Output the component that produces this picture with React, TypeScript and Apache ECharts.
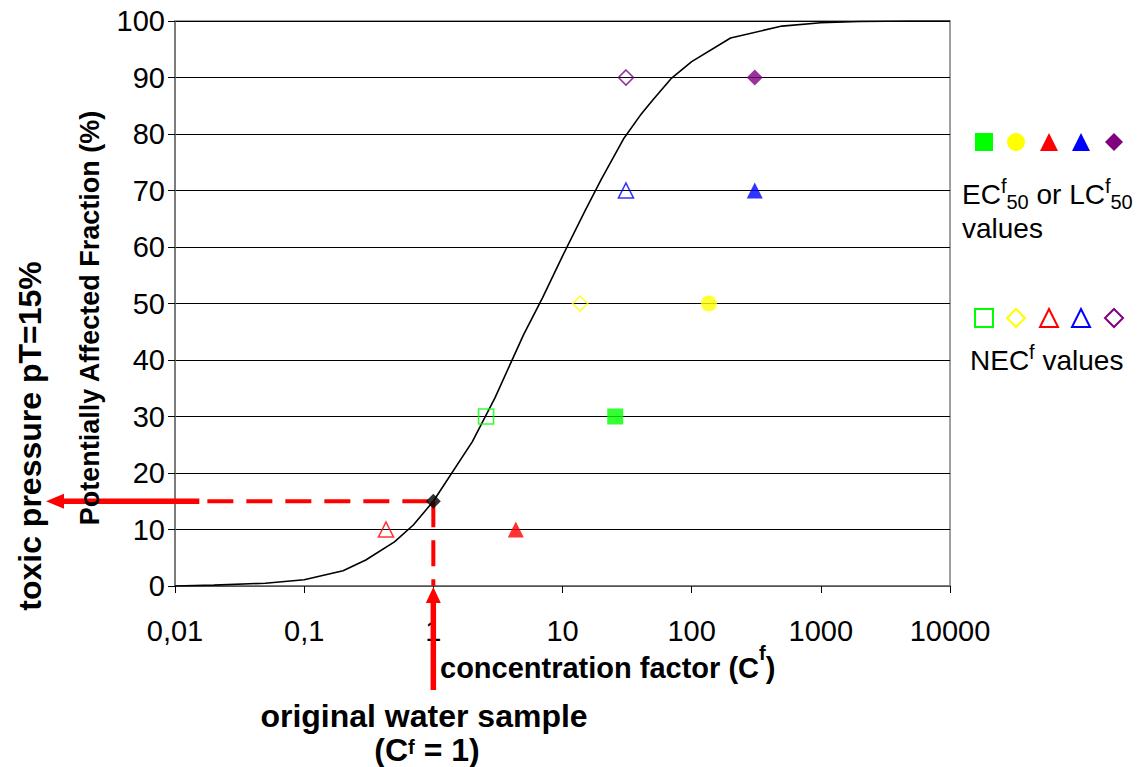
import React, { useEffect, useRef } from 'react';
import * as echarts from 'echarts';

// ---- data ----
const tickLabels = ['0,01', '0,1', '1', '10', '100', '1000', '10000'];
const curveX = [0.01, 0.02, 0.05, 0.1, 0.2, 0.3, 0.5, 0.7, 1, 2, 3, 5, 7, 10, 15, 20, 30, 40, 50, 70, 100, 200, 500, 1000, 2000, 5000, 10000];
const curvePAF = [0.0, 0.15, 0.5, 1.1, 2.7, 4.6, 7.8, 10.8, 15, 25.5, 33.3, 44.5, 51, 58.4, 66.5, 72, 79.3, 83.3, 86, 89.9, 92.8, 97, 99.1, 99.7, 99.9, 100, 100];
const ecX = [25.6, 136, 4.35, 308, 308];
const ecY = [30, 50, 10, 70, 90];
const necX = [2.56, 13.7, 0.43, 31, 31];
const necY = [30, 50, 10, 70, 90];
const sampleX = 1;
const samplePAF = 15;
const pointerStartX = 0.0178;

// ---- styles ----
const speciesColors = ['#00ff00', '#ffff00', '#ff0000', '#0000ff', '#800080'];
const ecSymbols = ['rect', 'circle', 'triangle', 'triangle', 'diamond'];
const necSymbols = ['rect', 'diamond', 'triangle', 'triangle', 'diamond'];
const FONT = "'Liberation Sans', Arial, Helvetica, sans-serif";
const RED = '#ff0000';

export default function App() {
  const ref = useRef<HTMLDivElement>(null);
  useEffect(() => {
    if (!ref.current) return;
    const chart = echarts.init(ref.current, undefined, { renderer: 'svg' });
    chart.setOption({
      animation: false,
      backgroundColor: '#ffffff',
      grid: {
        left: 175, top: 21, width: 775, height: 565,
        show: true, borderColor: '#808080', borderWidth: 1.5, backgroundColor: 'transparent'
      },
      xAxis: {
        type: 'log', logBase: 10, min: 0.01, max: 10000,
        axisLine: { show: true, onZero: false, lineStyle: { color: '#707070', width: 1.5 } },
        axisTick: { show: true, length: 7, lineStyle: { color: '#000', width: 1 } },
        minorTick: { show: false },
        splitLine: { show: false },
        axisLabel: {
          fontSize: 29, fontFamily: FONT, color: '#000', margin: 30,
          formatter: (v: number) => tickLabels[Math.round(Math.log10(v)) + 2] ?? ''
        }
      },
      yAxis: {
        type: 'value', min: 0, max: 100, interval: 10,
        axisLine: { show: true, lineStyle: { color: '#707070', width: 1.5 } },
        axisTick: { show: true, length: 7, lineStyle: { color: '#000', width: 1 } },
        splitLine: { show: true, lineStyle: { color: '#000', width: 1 } },
        axisLabel: { fontSize: 29, fontFamily: FONT, color: '#000', margin: 10 }
      },
      series: [
        {
          type: 'line', name: 'SSD', data: curveX.map((x, i) => [x, curvePAF[i]]),
          symbol: 'none', smooth: false, lineStyle: { color: '#000', width: 1.6 }, z: 3
        },
        {
          type: 'line', name: 'pT horizontal', data: [[pointerStartX, samplePAF], [sampleX, samplePAF]],
          symbol: 'none', lineStyle: { color: RED, width: 4, type: [26, 13] }, z: 4
        },
        {
          type: 'line', name: 'pT vertical', data: [[sampleX, samplePAF], [sampleX, 0]],
          symbol: 'none', lineStyle: { color: RED, width: 4, type: [26, 13] }, z: 4
        },
        {
          type: 'scatter', name: 'EC50', z: 5,
          data: ecX.map((x, i) => ({
            value: [x, ecY[i]], symbol: ecSymbols[i], symbolSize: 16,
            itemStyle: { color: speciesColors[i] }
          }))
        },
        {
          type: 'scatter', name: 'NEC', z: 5,
          data: necX.map((x, i) => ({
            value: [x, necY[i]], symbol: necSymbols[i], symbolSize: 15,
            itemStyle: { color: 'rgba(255,255,255,0)', borderColor: speciesColors[i], borderWidth: 1.6 }
          }))
        },
        {
          type: 'scatter', name: 'sample', z: 6,
          data: [[sampleX, samplePAF]], symbol: 'diamond', symbolSize: 15,
          itemStyle: { color: '#000' }
        }
      ]
    });

    const [sx, sy] = chart.convertToPixel({ gridIndex: 0 }, [sampleX, samplePAF]) as number[];
    const [px0] = chart.convertToPixel({ gridIndex: 0 }, [pointerStartX, samplePAF]) as number[];
    const y0 = (chart.convertToPixel({ gridIndex: 0 }, [sampleX, 0]) as number[])[1];

    const txt = (text: string, x: number, y: number, size: number, bold: boolean, opts: any = {}) => ({
      type: 'text', x, y, rotation: opts.rotation || 0, z: 100,
      style: {
        text, fill: '#000', fontSize: size, fontWeight: bold ? 'bold' : 'normal', fontFamily: FONT,
        align: opts.align || 'center', verticalAlign: 'middle'
      }
    });

    const richText = (text: string, x: number, y: number, size: number, bold: boolean, lineHeight: number,
      align: string, sup: { size: number; lh: number }, sub?: { size: number; lh: number }) => ({
      type: 'text', x, y, z: 100,
      style: {
        text, fill: '#000', fontSize: size, fontWeight: bold ? 'bold' : 'normal', fontFamily: FONT,
        lineHeight, align, verticalAlign: 'middle',
        rich: {
          sup: { fontSize: sup.size, fontWeight: bold ? 'bold' : 'normal', fontFamily: FONT, verticalAlign: 'top', lineHeight: sup.lh },
          sub: sub
            ? { fontSize: sub.size, fontWeight: bold ? 'bold' : 'normal', fontFamily: FONT, verticalAlign: 'bottom', lineHeight: sub.lh }
            : { fontSize: size }
        }
      }
    });

    const legendXs = [984, 1016, 1049, 1081, 1114];
    const half = 9;
    const shape = (kind: string, cx: number, cy: number, color: string, filled: boolean) => {
      const style = filled
        ? { fill: color, stroke: 'none' }
        : { fill: 'none', stroke: color, lineWidth: 2 };
      if (kind === 'rect') return { type: 'rect', shape: { x: cx - half, y: cy - half, width: half * 2, height: half * 2 }, style, z: 100 };
      if (kind === 'circle') return { type: 'circle', shape: { cx, cy, r: half }, style, z: 100 };
      if (kind === 'triangle') return { type: 'polygon', shape: { points: [[cx, cy - half], [cx + half, cy + half], [cx - half, cy + half]] }, style, z: 100 };
      return { type: 'polygon', shape: { points: [[cx, cy - half], [cx + half, cy], [cx, cy + half], [cx - half, cy]] }, style, z: 100 };
    };

    const elements: any[] = [
      txt('Potentially Affected Fraction (%)', 90, 318, 27, true, { rotation: Math.PI / 2 }),
      txt('toxic pressure pT=15%', 30, 436, 32, true, { rotation: Math.PI / 2 }),
      richText('concentration factor (C{sup|f})', 440, 668, 29, true, 50, 'left', { size: 20, lh: 15 }),
      txt('original water sample', 424, 716, 32, true),
      richText('(C{sup|f} = 1)', 427, 750, 32, true, 26, 'center', { size: 20, lh: 18 }),
      richText('EC{sup|f}{sub|50} or LC{sup|f}{sub|50}', 962, 194, 28, false, 36, 'left', { size: 20, lh: 31 }, { size: 20, lh: 16 }),
      txt('values', 962, 228, 28, false, { align: 'left' }),
      richText('NEC{sup|f} values', 970, 360, 28, false, 36, 'left', { size: 20, lh: 31 }),
      // horizontal red arrow
      { type: 'line', z: 90, shape: { x1: px0 - 8, y1: sy, x2: 60, y2: sy }, style: { stroke: RED, lineWidth: 5.5 } },
      { type: 'polygon', z: 90, shape: { points: [[46, sy], [64, sy - 7.5], [64, sy + 7.5]] }, style: { fill: RED } },
      // vertical red arrow
      { type: 'line', z: 90, shape: { x1: sx, y1: y0 + 14, x2: sx, y2: 690 }, style: { stroke: RED, lineWidth: 5.5 } },
      { type: 'polygon', z: 90, shape: { points: [[sx, y0 + 1], [sx - 7.5, y0 + 17], [sx + 7.5, y0 + 17]] }, style: { fill: RED } }
    ];
    legendXs.forEach((lx, i) => {
      elements.push(shape(ecSymbols[i], lx, 142, speciesColors[i], true));
      elements.push(shape(necSymbols[i], lx, 318, speciesColors[i], false));
    });

    chart.setOption({ graphic: { elements } });
    return () => chart.dispose();
  }, []);
  return (
    <div
      ref={ref}
      style={{ position: 'fixed', left: 0, top: 0, width: 1145, height: 767, background: '#fff' }}
    />
  );
}
